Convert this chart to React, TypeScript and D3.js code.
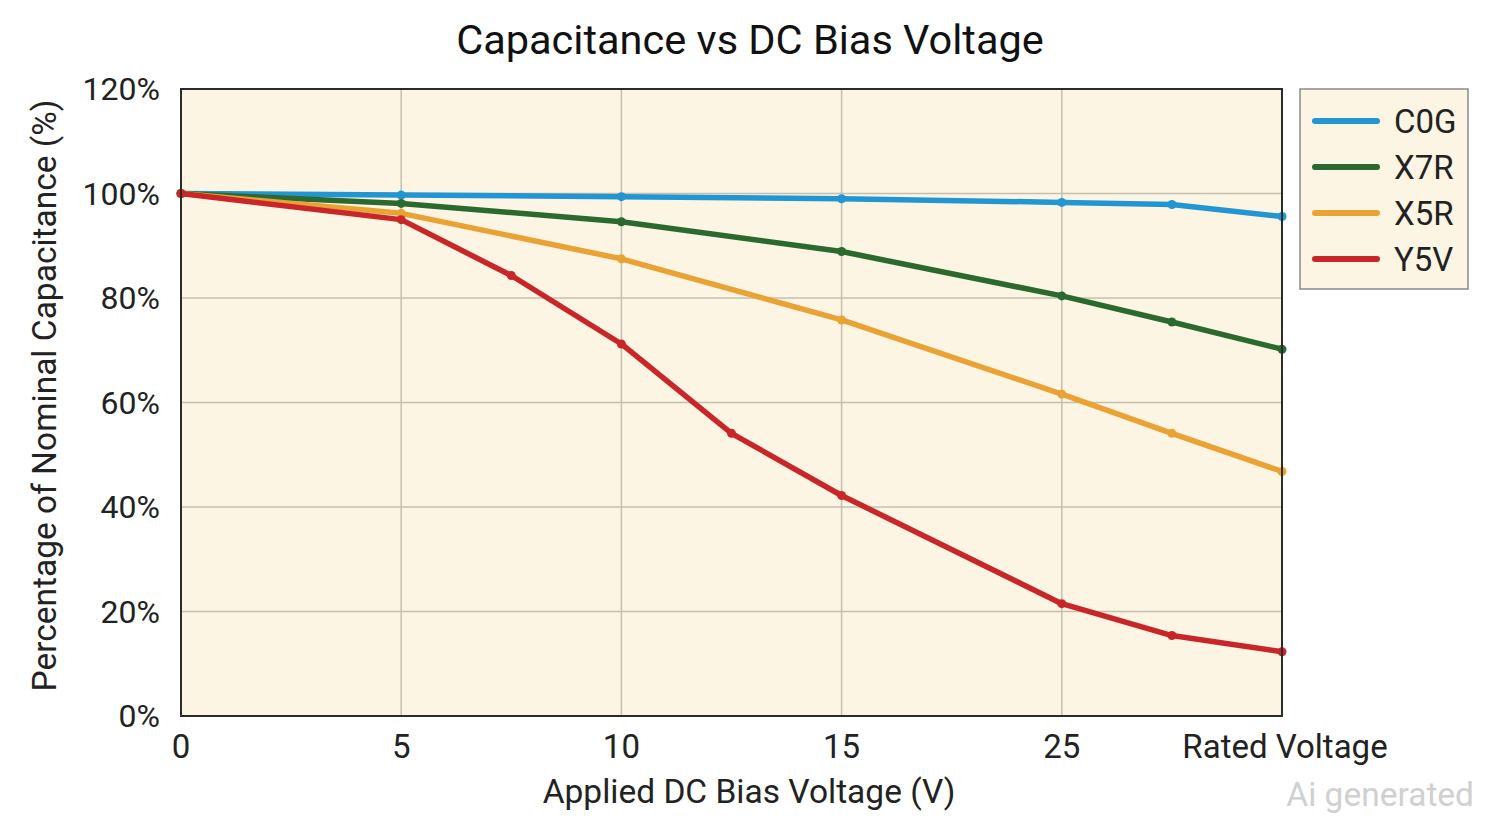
import React from "react";
import * as d3 from "d3";

// x positions are in tick steps along the (non-uniform) voltage axis
const xTickLabels = ["0", "5", "10", "15", "25", "Rated Voltage"];
const yTicks = [0, 20, 40, 60, 80, 100, 120];

const seriesNames = ["C0G", "X7R", "X5R", "Y5V"];
const seriesColors = ["#2196d3", "#2a6a2e", "#e9a233", "#c9262a"];

const c0gX = [0, 1, 2, 3, 4, 4.5, 5];
const c0gY = [100, 99.7, 99.4, 99.0, 98.3, 97.9, 95.6];

const x7rX = [0, 1, 2, 3, 4, 4.5, 5];
const x7rY = [100, 98.1, 94.6, 88.9, 80.4, 75.4, 70.2];

const x5rX = [0, 1, 2, 3, 4, 4.5, 5];
const x5rY = [100, 96.2, 87.5, 75.8, 61.6, 54.1, 46.8];

const y5vX = [0, 1, 1.5, 2, 2.5, 3, 4, 4.5, 5];
const y5vY = [100, 95.0, 84.3, 71.2, 54.1, 42.2, 21.5, 15.4, 12.3];

const seriesX = [c0gX, x7rX, x5rX, y5vX];
const seriesY = [c0gY, x7rY, x5rY, y5vY];

const W = 1500;
const H = 831;
const margin = { left: 181, right: 218, top: 89, bottom: 115 };
const FONT = "Roboto, 'Noto Sans', sans-serif";

export default function App() {
  const x = d3.scaleLinear().domain([0, 5]).range([margin.left, W - margin.right]);
  const y = d3.scaleLinear().domain([0, 120]).range([H - margin.bottom, margin.top]);

  const line = d3
    .line<[number, number]>()
    .x((d) => x(d[0]))
    .y((d) => y(d[1]))
    .curve(d3.curveLinear);

  const plotW = x(5) - x(0);
  const plotH = y(0) - y(120);

  return (
    <svg
      width={W}
      height={H}
      style={{ position: "absolute", left: 0, top: 0, background: "#fff" }}
      fontFamily={FONT}
    >
      <text x={750} y={54} textAnchor="middle" fontSize={41.5} fill="#111">
        Capacitance vs DC Bias Voltage
      </text>

      <rect x={x(0)} y={y(120)} width={plotW} height={plotH} fill="#fcf5e3" />

      {/* grid */}
      {yTicks.slice(1, -1).map((t) => (
        <line key={"gy" + t} x1={x(0)} x2={x(5)} y1={y(t)} y2={y(t)} stroke="#c4bfb0" strokeWidth={1.5} />
      ))}
      {xTickLabels.slice(1, -1).map((_, i) => (
        <line key={"gx" + i} x1={x(i + 1)} x2={x(i + 1)} y1={y(0)} y2={y(120)} stroke="#c4bfb0" strokeWidth={1.5} />
      ))}

      {/* series */}
      {seriesNames.map((name, s) => {
        const pts = seriesX[s].map((v, i) => [v, seriesY[s][i]] as [number, number]);
        return (
          <g key={name}>
            <path d={line(pts) || ""} fill="none" stroke={seriesColors[s]} strokeWidth={5.5} strokeLinejoin="round" strokeLinecap="round" />
            {pts.map((p, i) => (
              <circle key={i} cx={x(p[0])} cy={y(p[1])} r={4.5} fill={seriesColors[s]} />
            ))}
          </g>
        );
      })}

      <rect x={x(0)} y={y(120)} width={plotW} height={plotH} fill="none" stroke="#2b2b2b" strokeWidth={2} />

      {/* y ticks */}
      {yTicks.map((t) => (
        <text key={"yt" + t} x={160} y={y(t) + 11} textAnchor="end" fontSize={32} fill="#222">
          {t}%
        </text>
      ))}

      {/* x ticks */}
      {xTickLabels.map((lab, i) => (
        <text key={"xt" + i} x={x(i) + (i === 5 ? 3 : 0)} y={758} textAnchor="middle" fontSize={33} fill="#222">
          {lab}
        </text>
      ))}

      <text x={749} y={803} textAnchor="middle" fontSize={33.5} fill="#222">
        Applied DC Bias Voltage (V)
      </text>
      <text
        transform={`translate(56, ${(y(0) + y(120)) / 2 - 7}) rotate(-90)`}
        textAnchor="middle"
        fontSize={33.5}
        fill="#222"
      >
        Percentage of Nominal Capacitance (%)
      </text>

      {/* legend */}
      <g transform="translate(1300, 89)">
        <rect width={168} height={200} fill="#fcf5e3" stroke="#8a8a8a" strokeWidth={1.5} />
        {seriesNames.map((name, s) => (
          <g key={name} transform={`translate(0, ${32 + s * 46})`}>
            <line x1={15} x2={77} y1={0} y2={0} stroke={seriesColors[s]} strokeWidth={6} strokeLinecap="round" />
            <text x={94} y={12} fontSize={33} fill="#222">
              {name}
            </text>
          </g>
        ))}
      </g>

      <text x={1474} y={806} textAnchor="end" fontSize={33.5} fill="#d0d0d0">
        Ai generated
      </text>
    </svg>
  );
}
